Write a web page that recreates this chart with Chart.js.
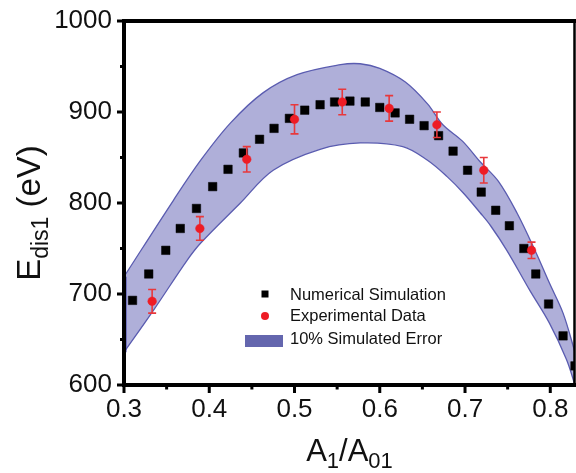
<!DOCTYPE html>
<html>
<head>
<meta charset="utf-8">
<script src="https://cdn.jsdelivr.net/npm/chart.js"></script>
<style>
  html, body { margin: 0; padding: 0; background: #fff; }
  canvas { display: block; }
</style>
</head>
<body>
<canvas id="myChart" width="576" height="473"></canvas>
<script>
// Numerical simulation (black squares)
const simX = [0.310, 0.329, 0.349, 0.366, 0.385, 0.404, 0.422, 0.440, 0.459, 0.476, 0.494,
              0.512, 0.530, 0.547, 0.565, 0.583, 0.600, 0.618, 0.635, 0.652, 0.669, 0.686,
              0.703, 0.719, 0.736, 0.752, 0.769, 0.783, 0.798, 0.815, 0.829];
const simY = [693, 722, 748, 772, 794, 818, 837, 855, 870, 882, 893,
              902, 908, 911, 912, 911, 905, 899, 892, 885, 874, 857,
              836, 812, 792, 775, 750, 722, 689, 654, 621];

// Experimental data (red circles) and their error bars
const expX = [0.333, 0.389, 0.444, 0.500, 0.556, 0.611, 0.667, 0.722, 0.778];
const expY = [692, 772, 848, 892, 911, 904, 886, 836, 748];
const expErr = [13, 13, 14, 16, 14, 14, 14, 14, 9];

// 10% simulated error band, upper and lower edges
const bandUpX = [0.300, 0.358, 0.390, 0.425, 0.463, 0.503, 0.554, 0.577, 0.600, 0.630,
                 0.656, 0.674, 0.697, 0.718, 0.739, 0.761, 0.782, 0.799, 0.815, 0.829];
const bandUpY = [719, 803, 847, 888, 921, 941, 952, 953, 948, 933,
                 909, 886, 868, 845, 824, 789, 748, 712, 679, 636];
const bandLowX = [0.300, 0.3345, 0.374, 0.390, 0.4365, 0.475, 0.530, 0.577, 0.627, 0.656,
                  0.679, 0.698, 0.718, 0.730, 0.749, 0.776, 0.799, 0.819, 0.829];
const bandLowY = [636, 682, 737, 756, 800, 836, 859, 866, 862, 847,
                  829, 811, 789, 775, 748, 704, 668, 628, 600];

// axes
const xTicks = [0.3, 0.4, 0.5, 0.6, 0.7, 0.8];
const xMinor = [0.35, 0.45, 0.55, 0.65, 0.75];
const yTicks = [600, 700, 800, 900, 1000];
const yMinor = [650, 750, 850, 950];

const legendItems = ['Numerical Simulation', 'Experimental Data', '10% Simulated Error'];

const FONT = "'Liberation Sans', Arial, sans-serif";
Chart.defaults.font.family = FONT;
Chart.defaults.color = '#111';

const pts = (xs, ys) => xs.map((x, i) => ({ x: x, y: ys[i] }));

// error bars, frame, ticks, titles and legend
const decor = {
  id: 'decor',
  beforeDatasetDraw(chart, args) {
    if (args.index !== 3) return;
    const ctx = chart.ctx, sx = chart.scales.x, sy = chart.scales.y;
    ctx.save();
    ctx.strokeStyle = '#e8383c';
    ctx.lineWidth = 1.6;
    expX.forEach((v, i) => {
      const px = sx.getPixelForValue(v);
      const t = sy.getPixelForValue(expY[i] + expErr[i]);
      const b = sy.getPixelForValue(expY[i] - expErr[i]);
      ctx.beginPath();
      ctx.moveTo(px, t); ctx.lineTo(px, b);
      ctx.moveTo(px - 4, t); ctx.lineTo(px + 4, t);
      ctx.moveTo(px - 4, b); ctx.lineTo(px + 4, b);
      ctx.stroke();
    });
    ctx.restore();
  },
  afterDraw(chart) {
    const ctx = chart.ctx, sx = chart.scales.x, sy = chart.scales.y;
    const a = chart.chartArea;
    ctx.save();
    // band closing edge at left axis
    ctx.strokeStyle = '#3a3aa8';
    ctx.lineWidth = 2;
    ctx.beginPath();
    ctx.moveTo(a.left + 1.5, sy.getPixelForValue(bandUpY[0]));
    ctx.lineTo(a.left + 1.5, sy.getPixelForValue(bandLowY[0]));
    ctx.stroke();

    // frame
    ctx.strokeStyle = '#000';
    ctx.lineWidth = 4;
    ctx.beginPath();
    ctx.moveTo(a.left, a.top - 2); ctx.lineTo(a.left, a.bottom + 2);
    ctx.moveTo(a.left - 2, a.bottom); ctx.lineTo(chart.width, a.bottom);
    ctx.moveTo(a.left - 2, a.top); ctx.lineTo(chart.width, a.top);
    ctx.stroke();
    ctx.lineWidth = 2.5;
    ctx.beginPath();
    ctx.moveTo(a.right - 0.5, a.top); ctx.lineTo(a.right - 0.5, a.bottom);
    ctx.stroke();

    // ticks
    ctx.lineWidth = 3;
    ctx.beginPath();
    xTicks.forEach(v => { const p = sx.getPixelForValue(v); ctx.moveTo(p, a.bottom); ctx.lineTo(p, a.bottom + 8); });
    xMinor.forEach(v => { const p = sx.getPixelForValue(v); ctx.moveTo(p, a.bottom); ctx.lineTo(p, a.bottom + 4.5); });
    yTicks.forEach(v => { const p = sy.getPixelForValue(v); ctx.moveTo(a.left, p); ctx.lineTo(a.left - 7, p); });
    yMinor.forEach(v => { const p = sy.getPixelForValue(v); ctx.moveTo(a.left, p); ctx.lineTo(a.left - 4, p); });
    ctx.stroke();

    // x title: A1/A01
    ctx.fillStyle = '#111';
    ctx.textBaseline = 'alphabetic';
    ctx.textAlign = 'left';
    const big = '31px ' + FONT, small = '22px ' + FONT;
    const xParts = [['A', big, 0], ['1', small, 7], ['/A', big, 0], ['01', small, 7]];
    const widthOf = parts => parts.reduce((s, p) => { ctx.font = p[1]; return s + ctx.measureText(p[0]).width; }, 0);
    let cx = (a.left + a.right) / 2 - widthOf(xParts) / 2;
    xParts.forEach(p => { ctx.font = p[1]; ctx.fillText(p[0], cx, 461 + p[2]); cx += ctx.measureText(p[0]).width; });

    // y title: Edis1 (eV)
    const ybig = '33px ' + FONT, ysmall = '23px ' + FONT;
    const yParts = [['E', ybig, 0], ['dis1', ysmall, 8], [' (eV)', ybig, 0]];
    ctx.save();
    ctx.translate(40, (a.top + a.bottom) / 2 + 10);
    ctx.rotate(-Math.PI / 2);
    let cy = -widthOf(yParts) / 2;
    yParts.forEach(p => { ctx.font = p[1]; ctx.fillText(p[0], cy, p[2]); cy += ctx.measureText(p[0]).width; });
    ctx.restore();

    // legend
    ctx.fillStyle = '#000';
    ctx.fillRect(261.5, 290.5, 7, 7);
    ctx.fillStyle = '#ee1c25';
    ctx.beginPath(); ctx.arc(265, 316, 4, 0, Math.PI * 2); ctx.fill();
    ctx.fillStyle = '#6466ae';
    ctx.fillRect(245, 335, 38, 12);
    ctx.fillStyle = '#111';
    ctx.font = '16.5px ' + FONT;
    ctx.textBaseline = 'middle';
    [295, 316, 339].forEach((y, i) => ctx.fillText(legendItems[i], 290, y));
    ctx.restore();
  }
};

new Chart(document.getElementById('myChart'), {
  type: 'scatter',
  data: {
    datasets: [
      {
        label: 'band upper', data: pts(bandUpX, bandUpY), showLine: true,
        borderColor: '#5a5cb0', borderWidth: 1.3, backgroundColor: '#afafd9',
        pointRadius: 0, tension: 0.35, fill: '+1', order: 10, clip: 0
      },
      {
        label: 'band lower', data: pts(bandLowX, bandLowY), showLine: true,
        borderColor: '#5a5cb0', borderWidth: 1.3, pointRadius: 0, tension: 0.35,
        fill: false, order: 9, clip: 0
      },
      {
        label: legendItems[0], data: pts(simX, simY), pointStyle: 'rect',
        pointRadius: 6, borderWidth: 0.5, backgroundColor: '#000', borderColor: '#000', order: 5
      },
      {
        label: legendItems[1], data: pts(expX, expY), pointStyle: 'circle',
        pointRadius: 4.3, borderWidth: 0.5, backgroundColor: '#ee1c25', borderColor: '#ee1c25', order: 1
      }
    ]
  },
  options: {
    responsive: false,
    animation: false,
    layout: { autoPadding: false, padding: { top: 21, right: 1, left: 0, bottom: 0 } },
    plugins: { legend: { display: false }, tooltip: { enabled: false } },
    scales: {
      x: {
        type: 'linear', min: 0.3, max: 0.829,
        grid: { display: false, drawTicks: false }, border: { display: false },
        afterBuildTicks: s => { s.ticks = xTicks.map(v => ({ value: v })); },
        afterFit: s => { s.height = 88; s.paddingLeft = 0; s.paddingRight = 0; },
        ticks: { font: { size: 26 }, padding: 9, maxRotation: 0, callback: v => v.toFixed(1) }
      },
      y: {
        type: 'linear', min: 600, max: 1000,
        grid: { display: false, drawTicks: false }, border: { display: false },
        afterBuildTicks: s => { s.ticks = yTicks.map(v => ({ value: v })); },
        afterFit: s => { s.width = 124; s.paddingTop = 0; s.paddingBottom = 0; },
        ticks: { font: { size: 26 }, padding: 12, callback: v => String(v) }
      }
    }
  },
  plugins: [decor]
});
</script>
</body>
</html>
